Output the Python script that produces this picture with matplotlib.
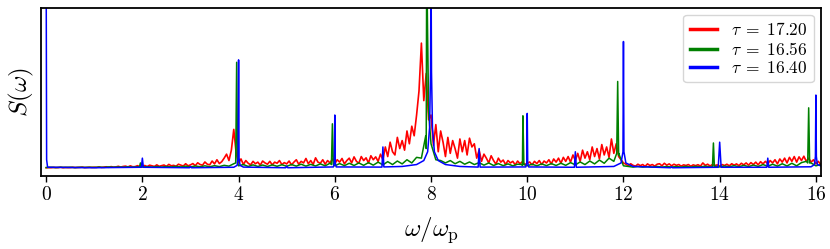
import numpy as np
import matplotlib
matplotlib.use("Agg")
import matplotlib.pyplot as plt

plt.rcParams['font.family'] = 'serif'
plt.rcParams['font.serif'] = ['cmr10', 'DejaVu Serif']
plt.rcParams['mathtext.fontset'] = 'cm'
plt.rcParams['axes.formatter.use_mathtext'] = True

labels = [r'$\tau\;=\;17.20$', r'$\tau\;=\;16.56$', r'$\tau\;=\;16.40$']

# tau = 17.20 : noisy spectrum on a 0.05 grid
red_w = np.round(np.arange(0, 16.16, 0.05), 2)
red_s = [
    0.000, 0.001, 0.000, 0.002, 0.001, 0.001, 0.003, 0.000, 0.002, 0.001,
    0.001, 0.003, 0.001, 0.002, 0.002, 0.004, 0.001, 0.002, 0.003, 0.002,
    0.003, 0.002, 0.005, 0.002, 0.004, 0.006, 0.003, 0.007, 0.004, 0.005,
    0.009, 0.004, 0.008, 0.010, 0.005, 0.012, 0.006, 0.007, 0.013, 0.006,
    0.010, 0.014, 0.007, 0.016, 0.012, 0.008, 0.018, 0.009, 0.013, 0.017,
    0.008, 0.021, 0.012, 0.015, 0.009, 0.022, 0.016, 0.011, 0.025, 0.012,
    0.018, 0.026, 0.013, 0.031, 0.020, 0.016, 0.036, 0.022, 0.018, 0.042,
    0.024, 0.050, 0.026, 0.038, 0.060, 0.085, 0.045, 0.110, 0.240, 0.090,
    0.030, 0.055, 0.020, 0.045, 0.028, 0.018, 0.040, 0.025, 0.035, 0.016,
    0.042, 0.030, 0.022, 0.040, 0.018, 0.035, 0.028, 0.045, 0.020, 0.032,
    0.024, 0.042, 0.018, 0.035, 0.050, 0.022, 0.040, 0.030, 0.058, 0.025,
    0.045, 0.020, 0.062, 0.035, 0.028, 0.050, 0.022, 0.045, 0.030, 0.055,
    0.025, 0.050, 0.035, 0.058, 0.024, 0.045, 0.060, 0.030, 0.068, 0.040,
    0.028, 0.070, 0.045, 0.062, 0.030, 0.075, 0.050, 0.068, 0.040, 0.085,
    0.050, 0.130, 0.070, 0.160, 0.100, 0.080, 0.190, 0.120, 0.170, 0.110,
    0.230, 0.150, 0.260, 0.200, 0.330, 0.480, 0.780, 0.420, 0.590, 0.300,
    0.330, 0.140, 0.270, 0.100, 0.230, 0.160, 0.070, 0.190, 0.090, 0.170,
    0.120, 0.060, 0.180, 0.100, 0.170, 0.080, 0.185, 0.130, 0.150, 0.060,
    0.110, 0.040, 0.085, 0.060, 0.030, 0.075, 0.045, 0.022, 0.060, 0.035,
    0.048, 0.020, 0.045, 0.030, 0.040, 0.018, 0.042, 0.025, 0.038, 0.020,
    0.028, 0.036, 0.018, 0.040, 0.026, 0.045, 0.020, 0.042, 0.030, 0.050,
    0.024, 0.055, 0.035, 0.060, 0.028, 0.065, 0.040, 0.070, 0.035, 0.080,
    0.045, 0.090, 0.040, 0.110, 0.060, 0.100, 0.050, 0.130, 0.070, 0.120,
    0.055, 0.145, 0.080, 0.130, 0.065, 0.180, 0.090, 0.150, 0.070, 0.050,
    0.030, 0.022, 0.012, 0.025, 0.015, 0.010, 0.022, 0.013, 0.020, 0.009,
    0.024, 0.014, 0.020, 0.010, 0.022, 0.025, 0.012, 0.028, 0.016, 0.024,
    0.012, 0.022, 0.015, 0.020, 0.010, 0.018, 0.014, 0.020, 0.009, 0.018,
    0.013, 0.019, 0.010, 0.030, 0.015, 0.022, 0.011, 0.020, 0.014, 0.018,
    0.010, 0.020, 0.014, 0.022, 0.012, 0.025, 0.016, 0.024, 0.013, 0.028,
    0.018, 0.030, 0.016, 0.032, 0.020, 0.035, 0.018, 0.038, 0.024, 0.040,
    0.025, 0.045, 0.030, 0.050, 0.024, 0.055, 0.035, 0.060, 0.030, 0.065,
    0.040, 0.070, 0.035, 0.068, 0.045, 0.072, 0.040, 0.060, 0.035, 0.050,
    0.025, 0.040, 0.020, 0.035,
]

# tau = 16.56 : background on a 0.1 grid plus sharp peaks
green_bg_w = np.round(np.arange(0, 16.11, 0.1), 2)
green_bg_s = [
    0.001, 0.003, 0.001, 0.003, 0.002, 0.003, 0.001, 0.003, 0.002, 0.003,
    0.002, 0.004, 0.002, 0.005, 0.003, 0.005, 0.003, 0.006, 0.003, 0.006,
    0.004, 0.007, 0.004, 0.008, 0.004, 0.008, 0.005, 0.009, 0.005, 0.010,
    0.005, 0.011, 0.006, 0.012, 0.006, 0.013, 0.007, 0.015, 0.010, 0.025,
    0.012, 0.020, 0.008, 0.018, 0.008, 0.017, 0.008, 0.018, 0.009, 0.019,
    0.009, 0.020, 0.010, 0.022, 0.010, 0.021, 0.011, 0.024, 0.012, 0.028,
    0.012, 0.026, 0.013, 0.028, 0.014, 0.030, 0.015, 0.032, 0.016, 0.035,
    0.018, 0.038, 0.020, 0.042, 0.024, 0.050, 0.030, 0.065, 0.060, 0.120,
    0.150, 0.050, 0.045, 0.030, 0.045, 0.025, 0.040, 0.022, 0.036, 0.020,
    0.032, 0.016, 0.030, 0.014, 0.026, 0.013, 0.024, 0.012, 0.022, 0.014,
    0.012, 0.022, 0.012, 0.024, 0.013, 0.026, 0.014, 0.028, 0.015, 0.032,
    0.018, 0.036, 0.020, 0.042, 0.024, 0.048, 0.028, 0.060, 0.040, 0.080,
    0.012, 0.008, 0.004, 0.008, 0.004, 0.007, 0.004, 0.008, 0.004, 0.008,
    0.004, 0.008, 0.004, 0.009, 0.004, 0.009, 0.005, 0.010, 0.005, 0.010,
    0.005, 0.011, 0.006, 0.013, 0.006, 0.015, 0.007, 0.017, 0.008, 0.020,
    0.009, 0.022, 0.010, 0.025, 0.011, 0.028, 0.012, 0.032, 0.040, 0.030,
    0.012, 0.020,
]
green_pk_w = [1.94, 1.96, 1.98, 3.94, 3.96, 3.98, 5.93, 5.95, 5.97,
              7.89, 7.91, 7.95, 9.89, 9.91, 9.93, 11.86, 11.88, 11.90,
              13.85, 13.87, 13.89, 15.83, 15.85, 15.87]
green_pk_s = [0.005, 0.03, 0.005, 0.03, 0.66, 0.03, 0.02, 0.275, 0.02,
              0.2, 1.3, 0.35, 0.02, 0.325, 0.02, 0.09, 0.54, 0.09,
              0.006, 0.155, 0.006, 0.03, 0.375, 0.03]

# tau = 16.40 : clean harmonic peaks
blue_w = [0.0, 0.01, 0.03, 1.0, 1.98, 2.0, 2.02, 2.98, 3.0, 3.02, 3.9, 3.97,
          3.99, 4.0, 4.01, 4.03, 4.1, 4.98, 5.0, 5.02, 5.97, 5.99, 6.0, 6.01,
          6.03, 6.98, 7.0, 7.02, 7.4, 7.7, 7.85, 7.93, 7.97, 7.99, 8.0, 8.01,
          8.03, 8.07, 8.15, 8.3, 8.6, 8.98, 9.0, 9.02, 9.97, 9.99, 10.0, 10.01,
          10.03, 10.98, 11.0, 11.02, 11.8, 11.95, 11.99, 12.0, 12.01, 12.05,
          12.2, 12.98, 13.0, 13.02, 13.97, 14.0, 14.03, 14.98, 15.0, 15.02,
          15.9, 15.97, 15.99, 16.0, 16.01, 16.03, 16.15]
blue_s = [1.3, 0.05, 0.003, 0.0, 0.003, 0.06, 0.003, 0.0, 0.008, 0.0, 0.003,
          0.015, 0.06, 0.675, 0.06, 0.015, 0.004, 0.0, 0.01, 0.0, 0.005, 0.03,
          0.33, 0.03, 0.005, 0.004, 0.13, 0.005, 0.008, 0.02, 0.045, 0.1, 0.25,
          0.6, 1.3, 0.6, 0.25, 0.1, 0.045, 0.02, 0.008, 0.004, 0.12, 0.004,
          0.005, 0.03, 0.34, 0.03, 0.005, 0.003, 0.1, 0.003, 0.008, 0.03, 0.1,
          0.79, 0.1, 0.03, 0.008, 0.0, 0.006, 0.0, 0.003, 0.16, 0.003, 0.003,
          0.06, 0.003, 0.006, 0.02, 0.07, 0.455, 0.07, 0.02, 0.006]

green_w = np.concatenate([green_bg_w, green_pk_w])
green_s = np.concatenate([green_bg_s, green_pk_s])
order = np.argsort(green_w, kind='stable')
green_w, green_s = green_w[order], green_s[order]

fig = plt.figure(figsize=(8.3, 2.49), dpi=100)
ax = fig.add_axes([0.0498, 0.293, 0.939, 0.675])

ax.plot(red_w, red_s, color='red', lw=1.2, label=labels[0])
ax.plot(green_w, green_s, color='green', lw=1.1, label=labels[1])
ax.plot(blue_w, blue_s, color='blue', lw=1.1, label=labels[2])

ax.set_xlim(-0.1, 16.1)
ax.set_ylim(-0.052, 1.0)
ax.set_xticks(np.arange(0, 17, 2))
ax.set_yticks([])
ax.tick_params(axis='x', labelsize=14, length=4, width=1.0)
for sp in ax.spines.values():
    sp.set_linewidth(1.3)

ax.set_xlabel(r'$\omega/\omega_{\rm p}$', fontsize=18, labelpad=8)
ax.set_ylabel(r'$S(\omega)$', fontsize=18, labelpad=4)

leg = ax.legend(loc='upper right', fontsize=12.5, handlelength=1.6,
                labelspacing=0.15, borderaxespad=0.4, borderpad=0.35)
for line in leg.get_lines():
    line.set_linewidth(2.5)

fig.savefig('out.png', dpi=100)
